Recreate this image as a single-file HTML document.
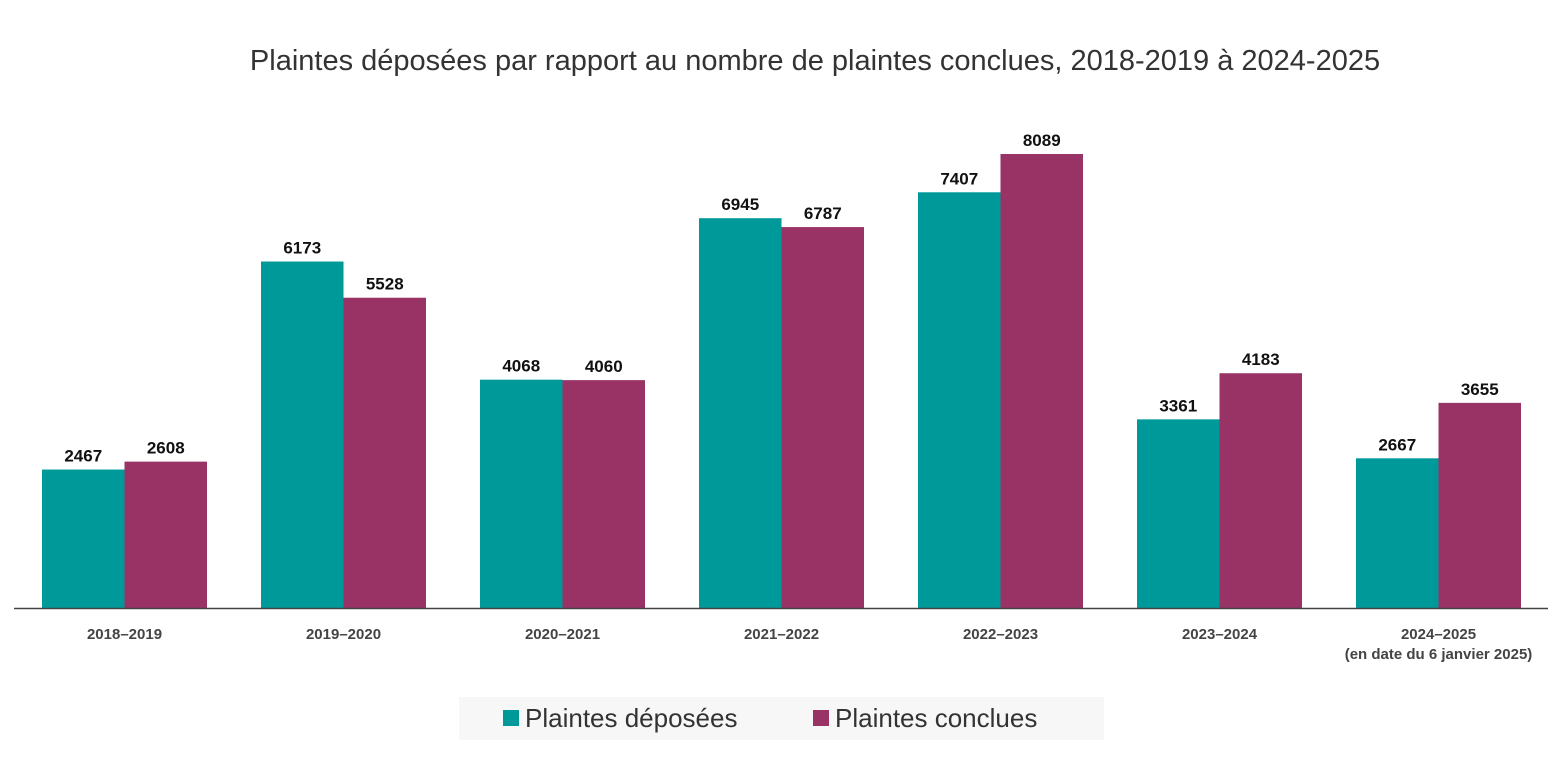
<!DOCTYPE html>
<html><head><meta charset="utf-8"><style>
body{margin:0;background:#fff;font-family:"Liberation Sans",sans-serif;}
</style></head><body>
<svg width="1563" height="759" xmlns="http://www.w3.org/2000/svg" font-family="Liberation Sans, sans-serif">
<text x="815" y="70" text-anchor="middle" font-size="29" fill="#333">Plaintes déposées par rapport au nombre de plaintes conclues, 2018-2019 à 2024-2025</text>
<g id="bars"></g>
<line x1="14" y1="608.5" x2="1548" y2="608.5" stroke="#444" stroke-width="1.5"/>
<rect x="459" y="697" width="645" height="43" fill="#f7f7f7"/>
<rect x="503" y="710" width="16" height="16" fill="#009999"/>
<text x="525" y="727" font-size="26" fill="#333">Plaintes déposées</text>
<rect x="813" y="710" width="16" height="16" fill="#993366"/>
<text x="835" y="727" font-size="26" fill="#333">Plaintes conclues</text>
</svg>
<script>
const categories=["2018–2019","2019–2020","2020–2021","2021–2022","2022–2023","2023–2024","2024–2025"];
const deposees=[2467,6173,4068,6945,7407,3361,2667];
const conclues=[2608,5528,4060,6787,8089,4183,3655];
const ns="http://www.w3.org/2000/svg";
const g=document.getElementById('bars');
const base=608,scale=454/8089,x0=42,step=219,bw=82.5;
const y=v=>base-v*scale;
function mk(tag,attrs){const e=document.createElementNS(ns,tag);for(const k in attrs)e.setAttribute(k,attrs[k]);g.appendChild(e);return e;}
categories.forEach((c,i)=>{
 const gx=x0+i*step;
 [[deposees[i],'#009999','deposees'],[conclues[i],'#993366','conclues']].forEach(([v,col,n],j)=>{
  const bx=gx+j*bw;
  const r=mk('rect',{x:bx,y:y(v),width:bw,height:v*scale,fill:col});
  
  
  const t=mk('text',{x:bx+bw/2,y:y(v)-8,'text-anchor':'middle','font-size':17,'font-weight':'bold',fill:'#111'});
  t.textContent=v;
  
  
 });
 const l=mk('text',{x:gx+bw,y:639,'text-anchor':'middle','font-size':15,'font-weight':'bold',fill:'#444'});
 l.textContent=c;
 
 
 if(i===6){const s=mk('text',{x:gx+bw,y:659,'text-anchor':'middle','font-size':15,'font-weight':'bold',fill:'#444'});s.textContent='(en date du 6 janvier 2025)';
 
 }
});
</script>
</body></html>
